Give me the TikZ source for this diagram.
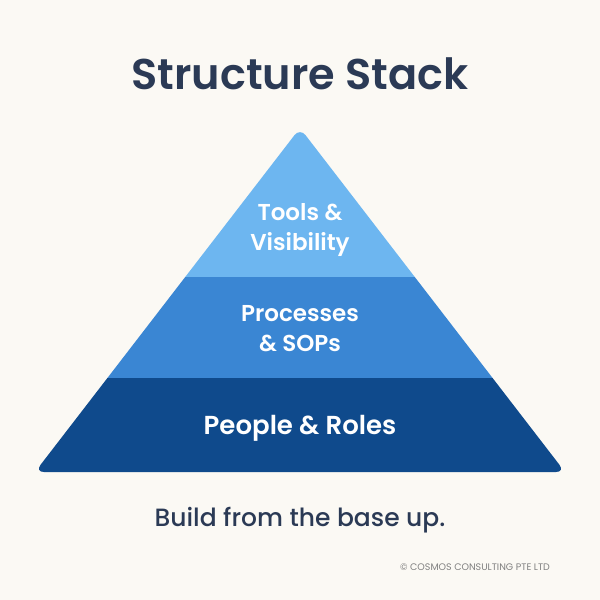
\documentclass[tikz,border=0pt]{standalone}
\usepackage{fontspec}
\setmainfont{Poppins}
\newfontfamily\semi{Poppins SemiBold}
\newfontfamily\med{Poppins Medium}
\definecolor{bg}{HTML}{FBF9F4}
\definecolor{navy}{HTML}{2B3A55}
\definecolor{lt}{HTML}{6DB6F0}
\definecolor{md}{HTML}{3A86D3}
\definecolor{dk}{HTML}{0F4A8C}
\tikzset{lbl/.style={text=white,font=\semi\fontsize{23}{30}\selectfont,align=center}}
\begin{document}
\begin{tikzpicture}[x=1pt,y=-1pt]
\fill[bg] (0,0) rectangle (600,600);
\useasboundingbox (0,0) rectangle (600,600);
\node[text=navy,font=\semi\fontsize{43}{48}\selectfont] (title) at (300,74) {Structure Stack};
\begin{scope}
\clip[rounded corners=9pt] (300,128) -- (565,472) -- (35,472) -- cycle;
\fill[lt] (0,100) rectangle (600,277);
\fill[md] (0,277) rectangle (600,378);
\fill[dk] (0,378) rectangle (600,480);
\end{scope}
\node[lbl] (t) at (300,230) {Tools \&\\Visibility};
\node[lbl] (p) at (300,329) {Processes\\\& SOPs};
\node[lbl,font=\semi\fontsize{26}{30}\selectfont] (r) at (300,428) {People \& Roles};
\node[text=navy,font=\med\fontsize{25}{30}\selectfont] (sub) at (300,520) {Build from the base up.};
\node[text=gray,font=\fontsize{9.5}{11}\selectfont] (c) at (475,567) {© COSMOS CONSULTING PTE LTD};
\end{tikzpicture}
\end{document}
